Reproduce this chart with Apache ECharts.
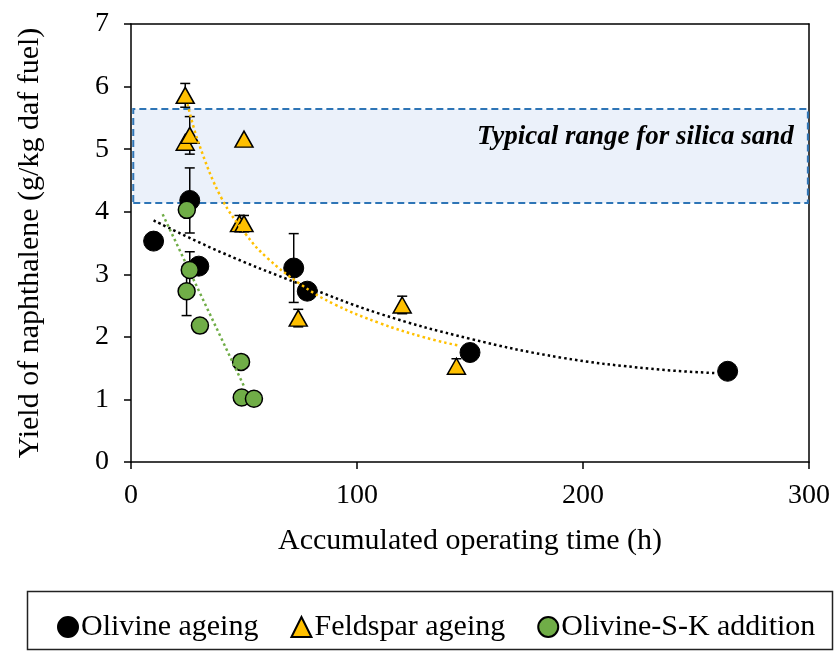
<!DOCTYPE html>
<html>
<head>
<meta charset="utf-8">
<script src="https://cdn.jsdelivr.net/npm/echarts@6/dist/echarts.min.js"></script>
<style>
  html, body { margin: 0; padding: 0; background: #fff; }
  #main { width: 834px; height: 651px; }
</style>
</head>
<body>
<div id="main"></div>
<script type="text/javascript">
    // measured points (time in h, yield in g/kg daf fuel)
    var olivineTime  = [10, 26, 30, 72, 78, 150, 264];
    var olivineYield = [3.53, 4.18, 3.13, 3.10, 2.73, 1.75, 1.45];
    var olivineErr   = [0, 0.52, 0, 0.55, 0, 0, 0];

    var feldsparTime  = [24, 24, 26, 50, 48, 50, 74, 120, 144];
    var feldsparYield = [5.86, 5.11, 5.22, 5.16, 3.81, 3.81, 2.30, 2.51, 1.53];
    var feldsparErr   = [0.19, 0, 0.30, 0, 0.13, 0.13, 0.14, 0.14, 0.12];

    var skTime  = [24.7, 26, 24.6, 30.5, 48.7, 49, 54.4];
    var skYield = [4.03, 3.07, 2.73, 2.18, 1.60, 1.03, 1.01];
    var skErr   = [0, 0.29, 0.39, 0, 0, 0, 0];

    // trend lines
    var olivineFitTime  = [10, 40, 75, 110, 150, 190, 230, 259];
    var olivineFitYield = [3.86, 3.35, 2.84, 2.37, 1.97, 1.67, 1.49, 1.42];
    var feldsparFitTime  = [25, 30, 40, 51, 60, 75, 90, 110, 130, 145];
    var feldsparFitYield = [5.72, 5.09, 4.22, 3.63, 3.27, 2.84, 2.52, 2.22, 1.99, 1.86];
    var skFitTime  = [14, 50.4];
    var skFitYield = [3.96, 1.18];

    // typical range for silica sand
    var bandLow  = 4.14;
    var bandHigh = 5.64;

    var xTicks = [0, 100, 200, 300];
    var yTicks = [0, 1, 2, 3, 4, 5, 6, 7];

    var serif = 'Liberation Serif';

    function pairs(xs, ys) {
        return xs.map(function (x, i) { return [x, ys[i]]; });
    }
    function errData(xs, ys, es) {
        var out = [];
        for (var i = 0; i < xs.length; i++) {
            if (es[i] > 0) out.push([xs[i], ys[i], es[i]]);
        }
        return out;
    }
    function renderErr(params, api) {
        var x = api.value(0), y = api.value(1), e = api.value(2);
        var top = api.coord([x, y + e]);
        var bot = api.coord([x, y - e]);
        var hw = 5;
        var st = { stroke: '#000', lineWidth: 1.5 };
        return {
            type: 'group',
            children: [
                { type: 'line', shape: { x1: top[0], y1: top[1], x2: bot[0], y2: bot[1] }, style: st },
                { type: 'line', shape: { x1: top[0] - hw, y1: top[1], x2: top[0] + hw, y2: top[1] }, style: st },
                { type: 'line', shape: { x1: bot[0] - hw, y1: bot[1], x2: bot[0] + hw, y2: bot[1] }, style: st }
            ]
        };
    }

    var myChart = echarts.init(document.getElementById('main'));

    var option = {
        animation: false,
        backgroundColor: '#fff',
        textStyle: { fontFamily: serif, color: '#000' },
        grid: { left: 131, right: 25, top: 24, bottom: 189 },
        xAxis: [
            {
                type: 'value', min: 0, max: 300, interval: 100,
                name: 'Accumulated operating time (h)',
                nameLocation: 'middle', nameGap: 64,
                nameTextStyle: { fontFamily: serif, fontSize: 30, color: '#000' },
                axisLine: { show: true, onZero: false, lineStyle: { color: '#000', width: 1.5 } },
                axisTick: { show: true, length: 7, lineStyle: { color: '#000', width: 1.5 } },
                axisLabel: {
                    margin: 20, fontFamily: serif, fontSize: 28, color: '#000',
                    formatter: function (v) { return xTicks.indexOf(v) >= 0 ? String(v) : ''; }
                },
                splitLine: { show: false }
            },
            {
                type: 'value', min: 0, max: 300, position: 'top',
                axisLine: { show: true, onZero: false, lineStyle: { color: '#000', width: 1.5 } },
                axisTick: { show: false }, axisLabel: { show: false }, splitLine: { show: false }
            }
        ],
        yAxis: [
            {
                type: 'value', min: 0, max: 7, interval: 1,
                name: 'Yield of naphthalene (g/kg daf fuel)',
                nameLocation: 'middle', nameGap: 86,
                nameTextStyle: { fontFamily: serif, fontSize: 30, color: '#000' },
                axisLine: { show: true, onZero: false, lineStyle: { color: '#000', width: 1.5 } },
                axisTick: { show: true, length: 7, lineStyle: { color: '#000', width: 1.5 } },
                axisLabel: {
                    margin: 22, fontFamily: serif, fontSize: 28, color: '#000',
                    formatter: function (v) { return yTicks.indexOf(v) >= 0 ? String(v) : ''; }
                },
                splitLine: { show: false }
            },
            {
                type: 'value', min: 0, max: 7, position: 'right',
                axisLine: { show: true, onZero: false, lineStyle: { color: '#000', width: 1.5 } },
                axisTick: { show: false }, axisLabel: { show: false }, splitLine: { show: false }
            }
        ],
        legend: {
            data: ['Olivine ageing', 'Feldspar ageing', 'Olivine-S-K addition'],
            left: 52, top: 607,
            itemWidth: 20, itemHeight: 20, itemGap: 32,
            textStyle: { fontFamily: serif, fontSize: 30, color: '#000', padding: [0, 0, 0, -2] }
        },
        graphic: [
            {
                type: 'rect', left: 25, top: 589,
                shape: { width: 805, height: 58 },
                style: { fill: 'none', stroke: '#222', lineWidth: 1.5 },
                silent: true
            }
        ],
        series: [
            {
                type: 'custom', z: 1, renderItem: renderErr,
                data: errData(olivineTime, olivineYield, olivineErr)
            },
            {
                name: 'Olivine ageing', type: 'scatter', z: 2,
                symbol: 'circle', symbolSize: 20,
                itemStyle: { color: '#000', borderColor: '#000', borderWidth: 1, opacity: 1 },
                data: pairs(olivineTime, olivineYield)
            },
            {
                type: 'custom', z: 3, renderItem: renderErr,
                data: errData(feldsparTime, feldsparYield, feldsparErr)
            },
            {
                name: 'Feldspar ageing', type: 'scatter', z: 4,
                symbol: 'triangle', symbolSize: [18, 16],
                itemStyle: { color: '#FFC000', borderColor: '#000', borderWidth: 1.5, opacity: 1 },
                data: pairs(feldsparTime, feldsparYield)
            },
            {
                type: 'custom', z: 5, renderItem: renderErr,
                data: errData(skTime, skYield, skErr)
            },
            {
                name: 'Olivine-S-K addition', type: 'scatter', z: 6,
                symbol: 'circle', symbolSize: 17,
                itemStyle: { color: '#70AD47', borderColor: '#000', borderWidth: 1.5, opacity: 1 },
                data: pairs(skTime, skYield)
            },
            {
                type: 'line', z: 8, showSymbol: false, smooth: 0.4, silent: true,
                lineStyle: { color: '#000', width: 2.5, type: [2.5, 3] },
                data: pairs(olivineFitTime, olivineFitYield)
            },
            {
                type: 'line', z: 8, showSymbol: false, smooth: 0.4, silent: true,
                lineStyle: { color: '#FFC000', width: 2.5, type: [2.5, 3] },
                data: pairs(feldsparFitTime, feldsparFitYield)
            },
            {
                type: 'line', z: 8, showSymbol: false, silent: true,
                lineStyle: { color: '#70AD47', width: 2.5, type: [2.5, 3] },
                data: pairs(skFitTime, skFitYield)
            },
            {
                type: 'scatter', z: 10, data: [], silent: true,
                markArea: {
                    silent: true,
                    itemStyle: {
                        color: 'rgba(190,208,238,0.3)',
                        borderColor: '#2E75B6', borderWidth: 2, borderType: [7, 4]
                    },
                    label: {
                        show: true, position: 'insideTopRight', distance: 15,
                        formatter: 'Typical range for silica sand',
                        fontFamily: serif, fontSize: 27, fontStyle: 'italic', fontWeight: 'bold', color: '#000'
                    },
                    data: [[
                        { xAxis: 1, yAxis: bandLow },
                        { xAxis: 299.5, yAxis: bandHigh }
                    ]]
                }
            }
        ]
    };

    myChart.setOption(option);
</script>
</body>
</html>
